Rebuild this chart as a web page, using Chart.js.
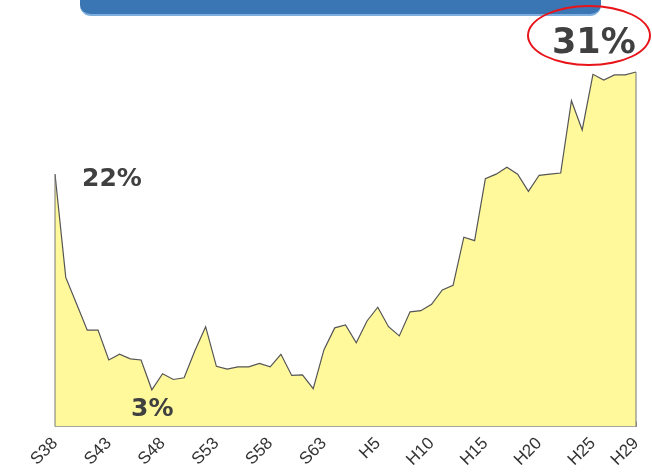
<!DOCTYPE html>
<html>
<head>
<meta charset="utf-8">
<script src="https://cdn.jsdelivr.net/npm/chart.js@4/dist/chart.umd.min.js"></script>
<style>
  body { margin: 0; background: #fff; }
  #wrap { position: relative; width: 652px; height: 472px; overflow: hidden; }
  #g1 { position: absolute; left: 0; top: 0; }
  #bar { position: absolute; left: 80px; top: -12px; width: 521px; height: 26px; background: #3a76b4; border-bottom: 2px solid #7eaedd; border-radius: 0 0 11px 11px; }
  .lbl { position: absolute; font-family: "DejaVu Sans", Verdana, sans-serif; font-weight: bold; color: #404040; white-space: nowrap; line-height: normal; }
  #ring { position: absolute; left: 527px; top: 5px; width: 124px; height: 61px; border: 2px solid #e8141a; border-radius: 50%; box-sizing: border-box; }
</style>
</head>
<body>
<div id="wrap">
  <canvas id="g1" width="652" height="482"></canvas>
  <div id="bar"></div>
  <div class="lbl" style="left:82px; top:163px; font-size:25px;">22%</div>
  <div class="lbl" style="left:131px; top:393px; font-size:25px;">3%</div>
  <div class="lbl" style="left:552px; top:21px; font-size:35px;">31%</div>
  <div id="ring"></div>
</div>
<script>
// S38 .. S63, H1 .. H29
var years = ['S38','S39','S40','S41','S42','S43','S44','S45','S46','S47',
  'S48','S49','S50','S51','S52','S53','S54','S55','S56','S57',
  'S58','S59','S60','S61','S62','S63',
  'H1','H2','H3','H4','H5','H6','H7','H8','H9','H10',
  'H11','H12','H13','H14','H15','H16','H17','H18','H19','H20',
  'H21','H22','H23','H24','H25','H26','H27','H28','H29'];

var ratio = [22.0, 13.0, 10.7, 8.4, 8.4, 5.8, 6.3, 5.9, 5.8, 3.2,
  4.6, 4.1, 4.25, 6.6, 8.7, 5.25, 5.0, 5.2, 5.2, 5.5,
  5.2, 6.3, 4.45, 4.5, 3.3, 6.7,
  8.6, 8.85, 7.3, 9.2, 10.4, 8.7, 7.9, 10.0, 10.1, 10.65,
  11.9, 12.3, 16.5, 16.2, 21.6, 22.0, 22.6, 22.0, 20.5, 21.9,
  22.0, 22.1, 28.4, 25.85, 30.7, 30.2, 30.65, 30.65, 30.9];

var shownLabels = ['S38','S43','S48','S53','S58','S63','H5','H10','H15','H20','H25','H29'];

// vertical edges of the filled area
var edges = {
  id: 'edges',
  afterDatasetsDraw: function(chart) {
    var pts = chart.getDatasetMeta(0).data;
    var bottom = chart.scales.y.getPixelForValue(0);
    var c = chart.ctx;
    c.save();
    c.strokeStyle = '#777';
    c.lineWidth = 1;
    c.beginPath();
    c.moveTo(pts[0].x, pts[0].y);
    c.lineTo(pts[0].x, bottom);
    c.moveTo(pts[pts.length - 1].x, pts[pts.length - 1].y);
    c.lineTo(pts[pts.length - 1].x, bottom);
    c.stroke();
    c.restore();
  }
};

var ctx = document.getElementById('g1').getContext('2d');
var myChart = new Chart(ctx, {
  type: 'line',
  data: {
    labels: years,
    datasets: [{
      data: ratio,
      borderColor: '#555',
      borderWidth: 1.2,
      backgroundColor: '#fff99c',
      fill: 'origin',
      tension: 0,
      pointRadius: 0
    }]
  },
  options: {
    responsive: false,
    animation: false,
    layout: { padding: { left: 55, right: 16, top: 25, bottom: 0 } },
    plugins: { legend: { display: false }, tooltip: { enabled: false } },
    scales: {
      x: {
        offset: false,
        afterFit: function(s) { s.paddingRight = 0; },
        border: { color: '#999', width: 1 },
        grid: {
          drawOnChartArea: false,
          tickLength: -5,
          color: function(c) { return c.index % 2 === 0 ? '#999' : 'rgba(0,0,0,0)'; }
        },
        ticks: {
          autoSkip: false,
          minRotation: 45,
          maxRotation: 45,
          padding: 12,
          color: '#333',
          font: { family: '"Liberation Sans", Arial, sans-serif', size: 17 },
          callback: function(v, i) {
            var l = years[i];
            return shownLabels.indexOf(l) >= 0 ? l : '';
          }
        }
      },
      y: {
        display: false,
        min: 0,
        max: 35
      }
    }
  },
  plugins: [edges]
});
</script>
</body>
</html>
